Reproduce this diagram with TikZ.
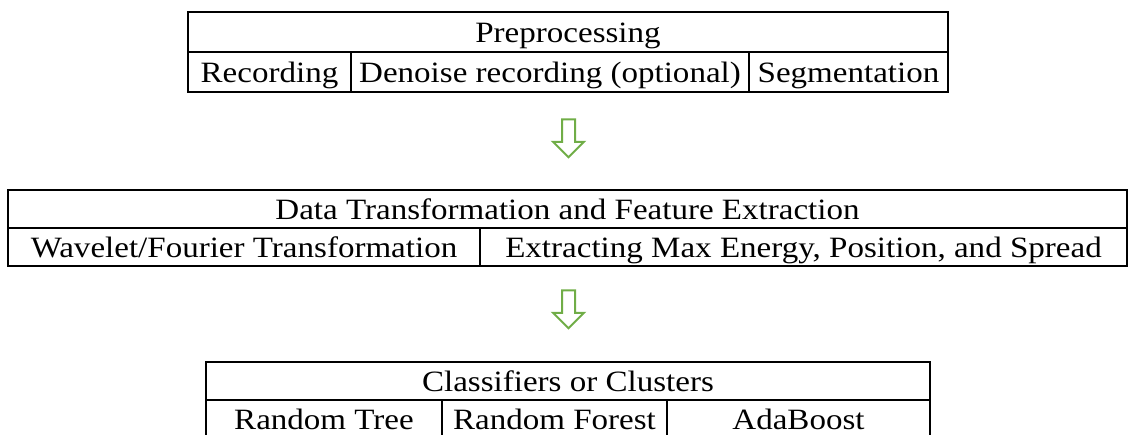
\documentclass[tikz,border=0pt]{standalone}
\usepackage{fontspec}
\setmainfont{Liberation Serif}[FakeStretch=1.12]
\usepackage{tikz}
\usetikzlibrary{shapes.arrows}
\definecolor{flowgreen}{HTML}{70AD47}

\begin{document}
\begin{tikzpicture}[
  x=1pt, y=-1pt,
  cell/.style={draw, line width=2.2pt, minimum height=40pt, inner sep=0pt, text height=20pt, text depth=0pt, font=\fontsize{29.5}{36}\selectfont},
  downarr/.style={single arrow, draw=flowgreen, line width=2pt, fill=white, minimum height=38pt, inner sep=5.5pt, single arrow head extend=9pt, single arrow head indent=0pt, shape border rotate=270}
]
\useasboundingbox (0,0) rectangle (1130,434);
% preprocessing
\node[cell, minimum width=760pt] (pre) at (568,32) {Preprocessing};
\node[cell, minimum width=163pt] (rec) at (269.5,72) {Recording};
\node[cell, minimum width=398pt] (den) at (550,72) {Denoise recording (optional)};
\node[cell, minimum width=199pt] (seg) at (848.5,72) {Segmentation};
% transformation and features
\node[cell, minimum width=1119pt, minimum height=38pt] (dtf) at (567.5,209) {Data Transformation and Feature Extraction};
\node[cell, minimum width=472pt, minimum height=38pt] (wav) at (244,247) {Wavelet/Fourier Transformation};
\node[cell, minimum width=647pt, minimum height=38pt] (ext) at (803.5,247) {Extracting Max Energy, Position, and Spread};
% classifiers
\node[cell, minimum width=724pt, minimum height=38pt] (cls) at (568,381) {Classifiers or Clusters};
\node[cell, minimum width=236pt, minimum height=38pt] (rtree) at (324,419) {Random Tree};
\node[cell, minimum width=225pt, minimum height=38pt] (rforest) at (554.5,419) {Random Forest};
\node[cell, minimum width=263pt, minimum height=38pt] (ada) at (798.5,419) {AdaBoost};

\node[downarr] (arr1) at (568.5,135) {};
\node[downarr] (arr2) at (568.5,306) {};
\end{tikzpicture}
\end{document}
